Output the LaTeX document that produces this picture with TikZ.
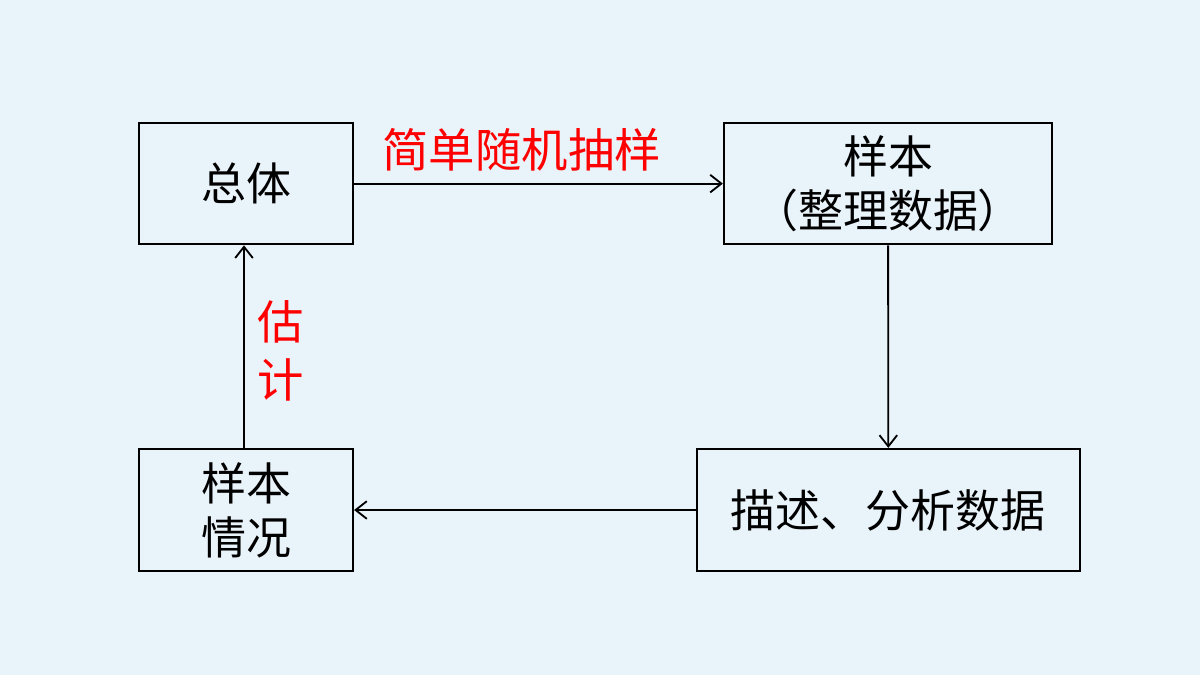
\documentclass[tikz,border=0pt]{standalone}
\usepackage{fontspec}
\newfontfamily\cjk{Noto Sans CJK SC}
\usetikzlibrary{arrows.meta,positioning,calc}
\definecolor{bgblue}{HTML}{E9F3FA}
\definecolor{flowred}{HTML}{FF0000}
\definecolor{flowink}{HTML}{000000}

\begin{document}
\begin{tikzpicture}[
  >={Straight Barb[length=2.8mm,width=4.4mm]},
  box/.style={draw=flowink, line width=1.6pt, minimum height=3.03cm, align=center,
    font=\cjk\fontsize{32}{38.5}\selectfont, inner sep=0pt},
  flow/.style={->, draw=flowink, line width=1.3pt},
  tag/.style={text=flowred, font=\cjk\fontsize{33}{41}\selectfont, align=center}
]
  % page
  \fill[bgblue] (0,0) rectangle (30,-16.875);
  \useasboundingbox (0,0) rectangle (30,-16.875);

  % boxes
  \node[box, minimum width=5.35cm] (zt) at (6.15,-4.59) {总体};
  \node[box, minimum width=8.2cm] (yb) at (22.2,-4.59) {样本\\（整理数据）};
  \node[box, minimum width=9.575cm, minimum height=3.05cm] (ms) at (22.21,-12.75) {描述、分析数据};
  \node[box, minimum width=5.35cm, minimum height=3.05cm] (qk) at (6.15,-12.75) {样本\\情况};

  % arrows
  \draw[flow] (zt) -- node[tag, above=0.18cm, xshift=-0.42cm] (cy) {简单随机抽样} (yb);
  \draw[flow] (yb) -- (ms);
  \draw[flow] (ms) -- (qk);
  \draw[flow] ([xshift=-0.05cm]qk.north) -- node[tag, right=0.2cm, yshift=-0.1cm] (gj) {估\\计} ([xshift=-0.05cm]zt.south);
\end{tikzpicture}
\end{document}
